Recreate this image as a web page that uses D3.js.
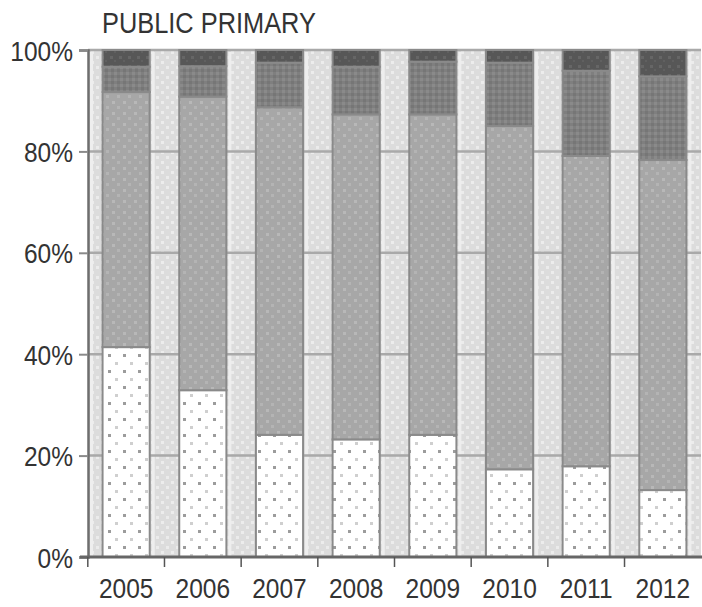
<!DOCTYPE html>
<html>
<head>
<meta charset="utf-8">
<script src="https://cdn.jsdelivr.net/npm/d3@7"></script>
<style>
  html, body { margin: 0; padding: 0; background: #fff; }
  svg { display: block; }
  text { font-family: "Liberation Sans", Arial, sans-serif; fill: #333333; }
</style>
</head>
<body>
<svg id="chart" width="702" height="607"></svg>
<script>
// Years on the category axis
const years = ["2005", "2006", "2007", "2008", "2009", "2010", "2011", "2012"];

// Share of each band per year (percent), bottom band first
const band1 = [41.4, 32.9, 24.1, 23.2, 24.1, 17.3, 17.9, 13.2];
const band2 = [50.3, 57.9, 64.6, 64.1, 63.2, 67.7, 61.2, 65.1];
const band3 = [5.0, 6.0, 8.8, 9.4, 10.4, 12.5, 16.8, 16.5];
const band4 = [3.3, 3.2, 2.5, 3.3, 2.3, 2.5, 4.1, 5.2];

// Value axis ticks
const yTicks = [0, 20, 40, 60, 80, 100];

const title = "PUBLIC PRIMARY";

const keys = ["band1", "band2", "band3", "band4"];
const rows = years.map((yr, i) => ({
  year: yr, band1: band1[i], band2: band2[i], band3: band3[i], band4: band4[i]
}));

const svg = d3.select("#chart");
const plotLeft = 88, plotRight = 701, plotTop = 50, plotBottom = 557;

const x = d3.scaleBand().domain(years).range([plotLeft, plotRight])
  .paddingInner(0.385).paddingOuter(0.19);
const y = d3.scaleLinear().domain([0, 100]).range([plotBottom, plotTop]);

// Fill textures
const defs = svg.append("defs");
function pattern(id, w, h, base, cells) {
  const p = defs.append("pattern").attr("id", id)
    .attr("patternUnits", "userSpaceOnUse").attr("width", w).attr("height", h);
  p.append("rect").attr("width", w).attr("height", h).attr("fill", base);
  cells.forEach(c => p.append("rect").attr("x", c[0]).attr("y", c[1])
    .attr("width", c[2]).attr("height", c[3]).attr("fill", c[4]));
  return "url(#" + id + ")";
}
const fills = {
  bg: pattern("bg", 10, 10, "#dcdcdc",
    [[1, 1, 3, 3, "#ececec"], [6, 6, 3, 3, "#ebebeb"]]),
  band1: pattern("p1", 15, 16, "#ffffff",
    [[3, 2, 3, 3, "#9c9c9c"], [10, 10, 3, 3, "#cfcfcf"]]),
  band2: pattern("p2", 11, 11, "#a7a7a7",
    [[2, 2, 3, 3, "#b8b8b8"], [7, 7, 3, 3, "#b4b4b4"]]),
  band3: pattern("p3", 6, 6, "#7f7f7f",
    [[0, 0, 3, 3, "#8a8a8a"], [3, 3, 3, 3, "#767676"]]),
  band4: pattern("p4", 9, 9, "#575757",
    [[2, 2, 3, 3, "#666666"], [6, 6, 2, 2, "#606060"]])
};

// Plot background
svg.append("rect").attr("x", plotLeft).attr("y", plotTop)
  .attr("width", plotRight - plotLeft).attr("height", plotBottom - plotTop)
  .attr("fill", fills.bg);

// Light edge stripe at the left of each gap between bars
svg.append("g").selectAll("rect").data(years).join("rect")
  .attr("x", d => x(d) + x.bandwidth() + 2)
  .attr("y", plotTop + 2)
  .attr("width", 3)
  .attr("height", plotBottom - plotTop - 2)
  .attr("fill", "#eeeeee");
svg.append("rect").attr("x", plotLeft + 2).attr("y", plotTop + 2)
  .attr("width", 3).attr("height", plotBottom - plotTop - 2).attr("fill", "#eeeeee");

// Gridlines
svg.append("g").selectAll("line").data(yTicks.filter(t => t > 0)).join("line")
  .attr("x1", plotLeft).attr("x2", plotRight)
  .attr("y1", d => y(d)).attr("y2", d => y(d))
  .attr("stroke", "#a9a9a9").attr("stroke-width", 2.5);

// Stacked bars
const series = d3.stack().keys(keys)(rows);
svg.append("g").selectAll("g").data(series).join("g")
  .attr("fill", d => fills[d.key])
  .selectAll("rect").data(d => d).join("rect")
  .attr("x", d => x(d.data.year))
  .attr("y", d => y(d[1]))
  .attr("width", x.bandwidth())
  .attr("height", d => y(d[0]) - y(d[1]))
  .attr("stroke", "#8a8a8a").attr("stroke-width", 2);

// Value axis
const yAxis = svg.append("g").attr("transform", `translate(${plotLeft},0)`)
  .call(d3.axisLeft(y).tickValues(yTicks).tickFormat(d => d + "%")
    .tickSize(9).tickPadding(6));
yAxis.select(".domain").attr("stroke", "#6e6e6e").attr("stroke-width", 2.5);
yAxis.selectAll(".tick line").attr("stroke", "#8a8a8a").attr("stroke-width", 2);
yAxis.selectAll(".tick text").attr("font-size", 28).attr("dy", "0.36em")
  .attr("fill", "#333333");

// Category axis
const xAxis = svg.append("g").attr("transform", `translate(0,${plotBottom})`)
  .call(d3.axisBottom(x).tickSize(0).tickPadding(21));
xAxis.select(".domain").remove();
xAxis.selectAll(".tick text").attr("font-size", 28).attr("dy", "0.71em")
  .attr("fill", "#333333");
svg.append("line").attr("x1", plotLeft - 8).attr("x2", plotRight + 2)
  .attr("y1", plotBottom).attr("y2", plotBottom)
  .attr("stroke", "#666666").attr("stroke-width", 3);

// Category boundary ticks
svg.append("g").selectAll("line").data(years).join("line")
  .attr("x1", d => x(d) + x.bandwidth() / 2 - x.step() / 2)
  .attr("x2", d => x(d) + x.bandwidth() / 2 - x.step() / 2)
  .attr("y1", plotBottom).attr("y2", plotBottom + 10)
  .attr("stroke", "#555555").attr("stroke-width", 1.5);

// Title
svg.append("text").attr("x", 102).attr("y", 33)
  .attr("font-size", 29).attr("fill", "#333333")
  .text(title);

// Narrow the lettering horizontally
svg.selectAll("text").each(function () {
  const w = this.getComputedTextLength();
  d3.select(this).attr("textLength", w * 0.875).attr("lengthAdjust", "spacingAndGlyphs");
});
</script>
</body>
</html>
